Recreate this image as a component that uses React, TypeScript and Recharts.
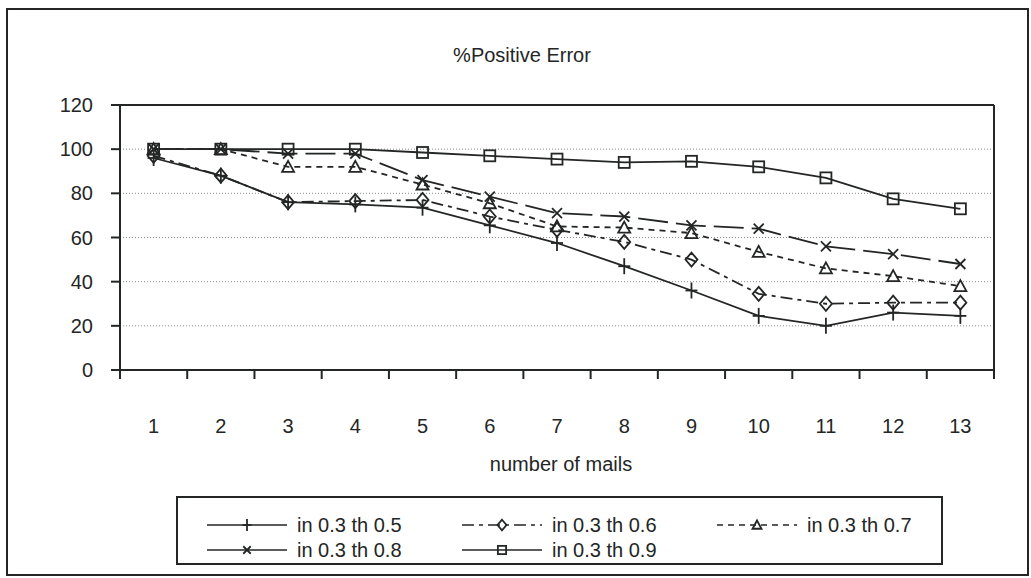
import React from 'react';
import { LineChart, Line, XAxis, YAxis, CartesianGrid, ReferenceLine } from 'recharts';

// values (% positive error per number of mails)
const mails = [1, 2, 3, 4, 5, 6, 7, 8, 9, 10, 11, 12, 13];
const th05 = [96, 88, 76, 75, 73.5, 65.5, 57.5, 47, 36, 24.5, 20, 26, 24.5];
const th06 = [97, 88, 76, 76.5, 77, 69.5, 63.5, 58, 50, 34.5, 30, 30.5, 30.5];
const th07 = [100, 100, 92, 92, 84, 75.5, 65, 64.5, 62, 53.5, 46, 42.5, 38];
const th08 = [100, 100, 98, 98, 86, 78.5, 71, 69.5, 65.5, 64, 56, 52.5, 48];
const th09 = [100, 100, 100, 100, 98.5, 97, 95.5, 94, 94.5, 92, 87, 77.5, 73];
const yTicks = [0, 20, 40, 60, 80, 100, 120];
const seriesNames = ['in 0.3 th 0.5', 'in 0.3 th 0.6', 'in 0.3 th 0.7', 'in 0.3 th 0.8', 'in 0.3 th 0.9'];

const INK = '#232625';
const FONT = '"Liberation Sans", Arial, sans-serif';

type Shape = 'plus' | 'diamond' | 'triangle' | 'cross' | 'square';

const series: { key: string; values: number[]; shape: Shape; dash?: string; legendDash?: string }[] = [
  { key: 'th05', values: th05, shape: 'plus' },
  { key: 'th06', values: th06, shape: 'diamond', dash: '12 5 4 5', legendDash: '12 5 4 5' },
  { key: 'th07', values: th07, shape: 'triangle', dash: '6 5', legendDash: '6 5' },
  { key: 'th08', values: th08, shape: 'cross', dash: '30 8' },
  { key: 'th09', values: th09, shape: 'square' },
];

const rows = mails.map((n, i) => {
  const row: Record<string, number> = { n };
  series.forEach((s) => (row[s.key] = s.values[i]));
  return row;
});

// ticks between categories (Excel style) plus the labels at each category
const xTicks = [...mails.flatMap((m) => [m - 0.5, m]), mails[mails.length - 1] + 0.5];

function Marker({ shape, cx, cy, k = 1 }: { shape: Shape; cx: number; cy: number; k?: number }) {
  const p = { stroke: INK, strokeWidth: 1.8, fill: 'none' };
  switch (shape) {
    case 'plus':
      return (
        <g {...p}>
          <line x1={cx} y1={cy - 8 * k} x2={cx} y2={cy + 8 * k} />
          <line x1={cx - 6 * k} y1={cy} x2={cx + 6 * k} y2={cy} />
        </g>
      );
    case 'diamond':
      return (
        <polygon
          {...p}
          points={`${cx},${cy - 7 * k} ${cx + 6 * k},${cy} ${cx},${cy + 7 * k} ${cx - 6 * k},${cy}`}
        />
      );
    case 'triangle':
      return (
        <polygon {...p} points={`${cx},${cy - 6 * k} ${cx + 6 * k},${cy + 5 * k} ${cx - 6 * k},${cy + 5 * k}`} />
      );
    case 'cross':
      return (
        <g {...p}>
          <line x1={cx - 5 * k} y1={cy - 5 * k} x2={cx + 5 * k} y2={cy + 5 * k} />
          <line x1={cx - 5 * k} y1={cy + 5 * k} x2={cx + 5 * k} y2={cy - 5 * k} />
        </g>
      );
    default:
      return <rect {...p} x={cx - 5.5 * k} y={cy - 5.5 * k} width={11 * k} height={11 * k} />;
  }
}

function XTick(props: any) {
  const { x, y, payload } = props;
  const v = payload.value as number;
  if (Number.isInteger(v)) {
    return (
      <text x={x} y={y + 56} textAnchor="middle" dominantBaseline="central" fontSize={20} fontFamily={FONT} fill={INK}>
        {v}
      </text>
    );
  }
  return <line x1={x} y1={y} x2={x} y2={y + 9} stroke={INK} strokeWidth={2} />;
}

function Legend() {
  const cols = [207, 462, 717];
  const rowY = [525, 550];
  return (
    <g>
      <rect x={177} y={497} width={765} height={67} fill="none" stroke={INK} strokeWidth={2} />
      {series.map((s, i) => {
        const x = cols[i % 3];
        const y = rowY[Math.floor(i / 3)];
        return (
          <g key={s.key}>
            <line x1={x} y1={y} x2={x + 80} y2={y} stroke={INK} strokeWidth={1.6} strokeDasharray={s.legendDash} />
            <Marker shape={s.shape} cx={x + 40} cy={y} k={0.75} />
            <text x={x + 90} y={y} dominantBaseline="central" fontSize={20} fontFamily={FONT} fill={INK}>
              {seriesNames[i]}
            </text>
          </g>
        );
      })}
    </g>
  );
}

export default function App() {
  return (
    <div style={{ position: 'absolute', left: 0, top: 0, width: 1031, height: 578, background: '#fff' }}>
      <LineChart width={1031} height={578} data={rows} margin={{ top: 105, right: 37, bottom: 178, left: 0 }}>
        <CartesianGrid horizontal vertical={false} stroke="#8a8a8a" strokeDasharray="1 2" />
        <XAxis
          dataKey="n"
          type="number"
          domain={[0.5, 13.5]}
          ticks={xTicks}
          interval={0}
          height={30}
          tickSize={0}
          tickMargin={0}
          tickLine={false}
          tick={<XTick />}
          axisLine={{ stroke: INK, strokeWidth: 2 }}
        />
        <YAxis
          domain={[0, 120]}
          ticks={yTicks}
          interval={0}
          width={120}
          tickSize={9}
          tickMargin={18}
          axisLine={{ stroke: INK, strokeWidth: 2 }}
          tickLine={{ stroke: INK, strokeWidth: 2 }}
          tick={{ fill: INK, fontSize: 20, fontFamily: FONT }}
        />
        <ReferenceLine y={120} stroke={INK} strokeWidth={2} />
        <ReferenceLine x={13.5} stroke={INK} strokeWidth={2} />
        {series.map((s) => (
          <Line
            key={s.key}
            dataKey={s.key}
            stroke={INK}
            strokeWidth={1.8}
            strokeDasharray={s.dash}
            isAnimationActive={false}
            dot={(d: any) => <Marker key={`${s.key}-${d.index}`} shape={s.shape} cx={d.cx} cy={d.cy} />}
            activeDot={false}
          />
        ))}
      </LineChart>
      <svg width={1031} height={578} style={{ position: 'absolute', left: 0, top: 0, pointerEvents: 'none' }}>
        <rect x={7} y={9} width={1021} height={566} fill="none" stroke={INK} strokeWidth={2} />
        <text x={522} y={55} textAnchor="middle" dominantBaseline="central" fontSize={20} fontFamily={FONT} fill={INK}>
          %Positive Error
        </text>
        <text x={561} y={464} textAnchor="middle" dominantBaseline="central" fontSize={20} fontFamily={FONT} fill={INK}>
          number of mails
        </text>
        <Legend />
      </svg>
    </div>
  );
}
